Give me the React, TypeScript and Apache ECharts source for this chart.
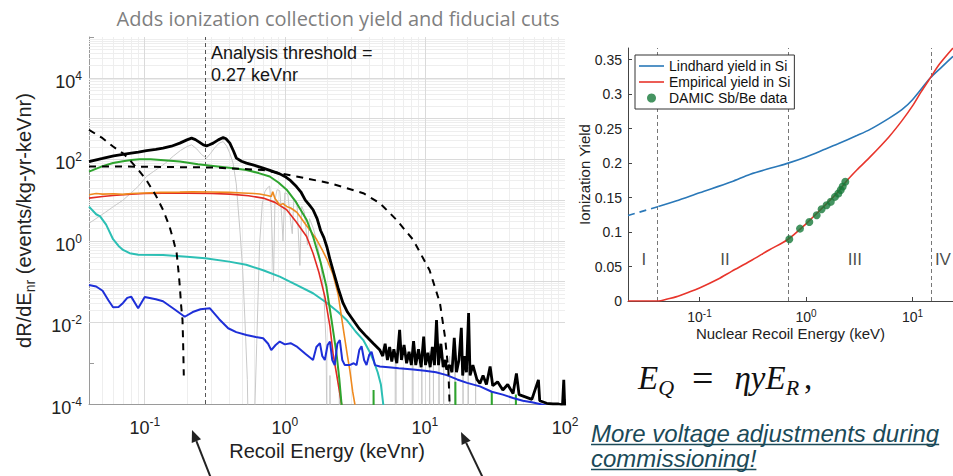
import React, { useEffect, useRef } from "react";
import * as echarts from "echarts";

const W = 953;
const H = 476;
const SANS = '"Liberation Sans", Arial, sans-serif';
const SERIF = '"Liberation Serif", "Times New Roman", serif';

// ---------------- Left panel: dR/dE spectra (E in keVnr, rate in events/kg-yr-keVnr)
const totalRate: [number, number][] = [
  [0.04, 88], [0.05, 105], [0.06, 122], [0.07, 132], [0.08, 142], [0.09, 150], [0.103, 164], [0.12, 175],
  [0.135, 188], [0.155, 210], [0.178, 250], [0.2, 300], [0.216, 331], [0.23, 305], [0.245, 265], [0.262, 225],
  [0.276, 214], [0.29, 228], [0.308, 250], [0.335, 300], [0.363, 343], [0.38, 320], [0.405, 250], [0.43, 160],
  [0.451, 107], [0.49, 90], [0.532, 81], [0.6, 72], [0.7, 61], [0.8, 52], [0.92, 44], [1.0, 38], [1.1, 30],
  [1.21, 21.5], [1.3, 16], [1.4, 10], [1.5, 7.5], [1.59, 5.8], [1.7, 3.5], [1.8, 1.8], [1.9, 1.2], [2.0, 0.7],
  [2.1, 0.35], [2.21, 0.19], [2.4, 0.07], [2.6, 0.03], [2.8, 0.018], [3.07, 0.0115], [3.4, 0.007], [3.83, 0.0045],
  [4.3, 0.003], [4.77, 0.0021], [5.0, 0.0015], [5.2, 0.003], [5.4, 0.0012], [5.6, 0.0025], [5.8, 0.0011],
  [6.0, 0.0022], [6.3, 0.001], [6.6, 0.0066], [6.8, 0.0012], [7.1, 0.0028], [7.4, 0.001], [7.7, 0.0019],
  [8.0, 0.0009], [8.3, 0.0035], [8.6, 0.0009], [9.0, 0.0022], [9.4, 0.0008], [9.8, 0.0045], [10.1, 0.0009],
  [10.5, 0.0018], [10.9, 0.0008], [11.3, 0.0025], [11.7, 0.0009], [12.1, 0.0115], [12.5, 0.0009], [13.0, 0.003],
  [13.5, 0.0008], [14.0, 0.0012], [14.3, 0.0007], [15.0, 0.0009], [15.6, 0.0006], [16.2, 0.0042], [16.8, 0.0006],
  [17.5, 0.0012], [18.2, 0.0074], [18.6, 0.0005], [19.3, 0.0015], [19.8, 0.0006], [20.5, 0.017], [21, 0.0005],
  [22, 0.0009], [23.5, 0.0004], [24.7, 0.00032], [26, 0.0005], [27.5, 0.0003], [29.2, 0.00083], [30.5, 0.00028],
  [33, 0.00035], [36, 0.00022], [39, 0.0003], [42.6, 0.00018], [45, 0.00056], [47, 0.00017], [52, 0.00015],
  [58, 0.00013], [64.6, 0.00039], [66, 0.00012], [74, 0.000104], [82, 0.0001], [90, 0.0001], [96, 0.000095],
  [98, 0.00039], [99.5, 0.00009],
];

const grayRate: [number, number][] = [
  [0.04, 2.7], [0.05, 4.5], [0.06, 7], [0.07, 10], [0.08, 15], [0.09, 22], [0.103, 38], [0.12, 55], [0.14, 80],
  [0.16, 120], [0.18, 165], [0.2, 205], [0.216, 227], [0.235, 180], [0.255, 130], [0.276, 107], [0.295, 140],
  [0.315, 190], [0.34, 250], [0.363, 273], [0.385, 210], [0.405, 140], [0.427, 81], [0.45, 25], [0.465, 6],
  [0.477, 2], [0.5, 0.2], [0.52, 0.01], [0.54, 0.0004], [0.55, 0.00001], [0.6, 0.00001], [0.63, 0.003],
  [0.66, 0.8], [0.69, 8], [0.72, 16], [0.75, 20], [0.78, 22], [0.8, 6], [0.83, 0.1], [0.85, 10], [0.88, 18],
  [0.92, 17], [0.95, 4], [0.97, 1], [1.0, 15], [1.05, 14], [1.1, 3], [1.13, 1.5], [1.16, 11], [1.22, 9],
  [1.28, 0.25], [1.32, 7], [1.38, 5], [1.45, 0.8], [1.5, 3.5], [1.6, 2], [1.7, 0.9], [1.8, 0.3], [1.9, 0.05],
  [1.97, 0.003], [2.0, 0.00001],
];
const graySpikeE = [2.1, 2.45, 6.2, 7.0, 8.2, 9.5, 10.8, 11.5, 12.6, 13.6, 15, 16.4, 18.7, 20.4, 23];
const graySpikeV = [5e-4, 3e-4, 1.2e-3, 8e-4, 1.5e-3, 1e-3, 2e-3, 1.3e-3, 2.5e-3, 1e-3, 1.5e-3, 2e-3, 1.2e-3, 8e-4, 4e-4];

const greenRate: [number, number][] = [
  [0.04, 50], [0.05, 68], [0.0594, 81], [0.07, 90], [0.08, 96], [0.092, 101], [0.11, 100], [0.13, 96],
  [0.178, 88], [0.24, 76], [0.308, 69], [0.4, 62], [0.532, 55], [0.65, 46], [0.78, 38], [0.9, 27], [1.03, 18],
  [1.2, 9], [1.43, 3.3], [1.6, 1.2], [1.8, 0.3], [1.98, 0.076], [2.15, 0.012], [2.34, 0.0017], [2.45, 0.0004],
  [2.54, 0.0001], [2.6, 0.00003],
];
const greenSpikeE = [4.3, 16.5, 30, 44.6];
const greenSpikeV = [2.2e-4, 3.5e-4, 2e-4, 1.7e-4];

const redRate: [number, number][] = [
  [0.04, 11.2], [0.05, 12.3], [0.0594, 13], [0.08, 14], [0.1, 14.5], [0.135, 14.8], [0.2, 14.8], [0.3, 14.5],
  [0.405, 14], [0.55, 12.8], [0.7, 11.2], [0.85, 8.8], [1.03, 5.8], [1.2, 3], [1.43, 1.28], [1.59, 0.5],
  [1.75, 0.17], [1.93, 0.043], [2.1, 0.008], [2.21, 0.0017], [2.35, 0.0005], [2.54, 0.0001], [2.6, 0.00003],
];

const orangeRate: [number, number][] = [
  [0.04, 13.5], [0.045, 14.5], [0.05, 14], [0.06, 14.3], [0.07, 13.8], [0.08, 14.5], [0.1, 15], [0.13, 15.5],
  [0.178, 15.7], [0.22, 16], [0.3, 15.8], [0.4, 15.5], [0.5, 15], [0.6, 14.5], [0.66, 14.1], [0.75, 13],
  [0.8, 12.2], [0.82, 16], [0.85, 11], [0.92, 7.6], [0.97, 8.2], [1.03, 7], [1.1, 6.4], [1.15, 5.8], [1.22, 5],
  [1.28, 4], [1.4, 2.6], [1.51, 1.86], [1.68, 1.1], [1.85, 0.6], [2.0, 0.35], [2.21, 0.15], [2.4, 0.05],
  [2.6, 0.0079], [2.8, 0.0015], [2.91, 0.00068], [3.05, 0.0002], [3.16, 0.0001], [3.2, 0.00004],
];

const cyanRate: [number, number][] = [
  [0.04, 6.9], [0.045, 4.5], [0.048, 4], [0.053, 2.5], [0.0594, 1.1], [0.065, 0.75], [0.07, 0.6], [0.078, 0.5],
  [0.09, 0.46], [0.135, 0.45], [0.2, 0.41], [0.27, 0.376], [0.4, 0.31], [0.53, 0.26], [0.7, 0.19], [0.92, 0.133],
  [1.2, 0.085], [1.59, 0.052], [2.0, 0.03], [2.4, 0.018], [2.76, 0.0115], [3.2, 0.006], [3.63, 0.0037],
  [4.0, 0.002], [4.28, 0.0012], [4.6, 0.0006], [4.85, 0.0003], [5.04, 0.0001], [5.1, 0.00005],
];

const blueRate: [number, number][] = [
  [0.04, 0.083], [0.045, 0.076], [0.05, 0.06], [0.055, 0.035], [0.0594, 0.0236], [0.065, 0.024], [0.07, 0.03],
  [0.075, 0.04], [0.08, 0.043], [0.0897, 0.0223], [0.1, 0.042], [0.12, 0.037], [0.135, 0.033], [0.16, 0.022],
  [0.193, 0.0138], [0.22, 0.018], [0.25, 0.021], [0.292, 0.0222], [0.34, 0.012], [0.394, 0.0072], [0.45, 0.0058],
  [0.532, 0.0049], [0.62, 0.0044], [0.7, 0.0041], [0.76, 0.003], [0.8, 0.0021], [0.86, 0.0028], [0.92, 0.0034],
  [1.0, 0.0029], [1.1, 0.0031], [1.21, 0.0026], [1.4, 0.0017], [1.59, 0.0012], [1.68, 0.0025], [1.78, 0.0031],
  [1.85, 0.0015], [1.93, 0.0012], [2.02, 0.0028], [2.1, 0.0034], [2.18, 0.0012], [2.27, 0.0009], [2.37, 0.003],
  [2.47, 0.0037], [2.57, 0.0012], [2.68, 0.0009], [2.9, 0.0009], [3.1, 0.001], [3.25, 0.0009], [3.4, 0.0021],
  [3.53, 0.0026], [3.68, 0.0012], [3.83, 0.0009], [4.0, 0.0016], [4.16, 0.0019], [4.4, 0.0009], [4.77, 0.00083],
  [5.5, 0.0008], [6.5, 0.00075], [8.25, 0.0007], [10, 0.00065], [12, 0.0006], [14.3, 0.00051], [17, 0.0004],
  [20, 0.00033], [24.7, 0.00027], [30, 0.0002], [36, 0.00017], [42.6, 0.00014], [50, 0.00012], [58, 0.00011],
  [66, 0.0001], [75, 0.00009],
];

const dashSteep: [number, number][] = [
  [0.04, 530], [0.05, 330], [0.0594, 206], [0.07, 140], [0.078, 97], [0.09, 55], [0.1028, 31], [0.12, 13],
  [0.135, 5.8], [0.15, 2.3], [0.16, 1.06], [0.169, 0.5], [0.175, 0.15], [0.178, 0.076], [0.182, 0.025],
  [0.186, 0.0115], [0.188, 0.003], [0.19, 0.0005],
];
const dashBroad: [number, number][] = [
  [0.04, 67], [0.1, 66], [0.3, 63], [0.7, 55], [1.21, 38], [2.1, 26], [3.63, 14.8], [4.77, 8.4], [6.26, 3.3],
  [8.25, 1.06], [10.8, 0.19], [12.8, 0.03], [13.9, 0.0045], [14.7, 0.00068], [15, 0.0001], [15.1, 0.00003],
];
const thresholdE = 0.27;

// ---------------- Right panel: ionization yield vs nuclear recoil energy (keV)
const lindhardLow: [number, number][] = [[0.0213, 0.124], [0.041, 0.137]];
const lindhard: [number, number][] = [
  [0.041, 0.137], [0.06, 0.145], [0.1, 0.157], [0.2, 0.173], [0.3, 0.184], [0.5, 0.194], [0.68, 0.2],
  [1.0, 0.209], [1.5, 0.22], [2, 0.228], [3, 0.24], [4, 0.249], [6, 0.265], [8, 0.278], [10, 0.292],
  [14.6, 0.323], [19, 0.34], [24, 0.355],
];
const empirical: [number, number][] = [
  [0.0213, 0], [0.041, 0], [0.05, 0.003], [0.06, 0.006], [0.08, 0.013], [0.1, 0.019], [0.15, 0.032],
  [0.2, 0.043], [0.3, 0.058], [0.45, 0.074], [0.68, 0.0896], [1.0, 0.112], [1.4, 0.134], [2.0, 0.158],
  [2.34, 0.172], [3, 0.19], [4, 0.209], [6, 0.238], [8, 0.262], [10, 0.283], [12, 0.303], [14.6, 0.323],
  [18, 0.344], [24, 0.367],
];
const damicE = [0.697, 0.878, 1.074, 1.26, 1.4, 1.56, 1.71, 1.87, 2.01, 2.12, 2.21, 2.34];
const damicY = [0.0896, 0.105, 0.1147, 0.1244, 0.133, 0.139, 0.144, 0.151, 0.156, 0.161, 0.166, 0.173];
const regionBounds = [0.041, 0.68, 15];
const regionNames = ["I", "II", "III", "IV"];
const regionLabelE = [0.03, 0.173, 2.88, 19.3];
const regionLabelY = 0.06;

// ---------------- colours
const C_BLACK = "#000000";
const C_GRAY = "#c9c9c9";
const C_GREEN = "#2ea42e";
const C_RED = "#e22b24";
const C_ORANGE = "#ef8a1f";
const C_CYAN = "#2cbfb4";
const C_BLUE = "#1e2fd8";
const Y_BLUE = "#2a78b8";
const Y_RED = "#e8352c";
const Y_GREEN = "#16793a";

const powLabel = (onlyEven: boolean) => (v: number) => {
  const l = Math.log10(v);
  const p = Math.round(l);
  if (Math.abs(l - p) > 1e-6) return "";
  if (onlyEven && p % 2 !== 0) return "";
  return `{b|10}{s|${p}}`;
};

const richBig = {
  b: { fontSize: 18, lineHeight: 24, fontFamily: SANS, color: "#222" },
  s: { fontSize: 12, lineHeight: 13, verticalAlign: "top", fontFamily: SANS, color: "#222" },
};
const richSmall = {
  b: { fontSize: 14, lineHeight: 18, fontFamily: SANS, color: "#222" },
  s: { fontSize: 10, lineHeight: 10, verticalAlign: "top", fontFamily: SANS, color: "#222" },
};

function measure(text: string, font: string) {
  const ctx = document.createElement("canvas").getContext("2d");
  if (!ctx) return text.length * 11;
  ctx.font = font;
  return ctx.measureText(text).width;
}

function buildOption() {
  const majorX = [0.1, 1, 10];
  const majorY = [1e-3, 1e-2, 1e-1, 1, 10, 100, 1e3, 1e4];
  const minorX: number[] = [];
  for (let k = -2; k <= 1; k++) for (let m = 2; m <= 9; m++) {
    const v = m * Math.pow(10, k);
    if (v > 0.04 && v < 100) minorX.push(v);
  }
  const minorY: number[] = [];
  for (let k = -4; k <= 4; k++) for (let m = 2; m <= 9; m++) minorY.push(m * Math.pow(10, k));
  const gridLineData = [
    ...minorX.map((v) => ({ xAxis: v, lineStyle: { color: "#eeeeee", width: 1, type: "solid" } })),
    ...minorY.map((v) => ({ yAxis: v, lineStyle: { color: "#eeeeee", width: 1, type: "solid" } })),
    ...majorX.map((v) => ({ xAxis: v, lineStyle: { color: "#dadada", width: 1, type: "solid" } })),
    ...majorY.map((v) => ({ yAxis: v, lineStyle: { color: "#dadada", width: 1, type: "solid" } })),
  ];

  const lineL = (name: string, data: any[], color: string, width: number, z = 3, type: any = "solid") => ({
    type: "line",
    name,
    xAxisIndex: 0,
    yAxisIndex: 0,
    data,
    symbol: "none",
    showSymbol: false,
    clip: true,
    silent: true,
    z,
    lineStyle: { color, width, type },
  });

  const spikes = (prefix: string, es: number[], vs: number[], color: string, width: number, z: number) =>
    es.map((e, i) => lineL(`${prefix}${i}`, [[e, 1e-5], [e, vs[i]], [e * 1.004, 1e-5]], color, width, z));

  const linkFont = 'italic 24px "Liberation Sans"';
  const link1 = "More voltage adjustments during";
  const link2 = "commissioning!";
  const w1 = measure(link1, linkFont);
  const w2 = measure(link2, linkFont);
  const LINK = "#1b4a58";

  const arrow = (tail: [number, number], tip: [number, number]) => {
    const dx = tip[0] - tail[0];
    const dy = tip[1] - tail[1];
    const len = Math.hypot(dx, dy);
    const ux = dx / len;
    const uy = dy / len;
    const hl = 12;
    const hw = 5;
    const bx = tip[0] - ux * hl;
    const by = tip[1] - uy * hl;
    return [
      { type: "line", z: 10, shape: { x1: tail[0], y1: tail[1], x2: bx, y2: by }, style: { stroke: "#222", lineWidth: 2 } },
      {
        type: "polygon",
        z: 10,
        shape: { points: [tip, [bx - uy * hw, by + ux * hw], [bx + uy * hw, by - ux * hw]] },
        style: { fill: "#222" },
      },
    ];
  };

  const lineIcon = "path://M0,0L25,0L25,1.6L0,1.6Z";
  const eqMain = { fontSize: 33, lineHeight: 40, fontStyle: "italic", fontFamily: SERIF, fill: "#111", color: "#111" };

  return {
    animation: false,
    backgroundColor: "#ffffff",
    textStyle: { fontFamily: SANS },
    grid: [
      { left: 89, top: 37, width: 476, height: 367, containLabel: false, outerBoundsMode: "none" },
      { left: 628, top: 48, width: 325, height: 253, containLabel: false, outerBoundsMode: "none" },
    ],
    xAxis: [
      {
        type: "log",
        gridIndex: 0,
        logBase: 10,
        min: 0.04,
        max: 100,
        axisLine: { show: true, onZero: false, lineStyle: { color: "#9a9a9a", width: 1 } },
        axisTick: { show: true, inside: true, length: 5, lineStyle: { color: "#9a9a9a" } },
        axisLabel: { formatter: powLabel(false), margin: 12, rich: richBig, color: "#222" },
        splitLine: { show: false },
        name: "Recoil Energy (keVnr)",
        nameLocation: "middle",
        nameGap: 37,
        nameMoveOverlap: false,
        nameTextStyle: { fontSize: 20, fontFamily: SANS, color: "#222" },
      },
      {
        type: "log",
        gridIndex: 1,
        logBase: 10,
        min: 0.0213,
        max: 24,
        axisLine: { show: true, onZero: false, lineStyle: { color: "#444", width: 1 } },
        axisTick: { show: true, inside: true, length: 4, lineStyle: { color: "#444" } },
        axisLabel: { formatter: powLabel(false), margin: 7, rich: richSmall, color: "#222" },
        splitLine: { show: false },
        name: "Nuclear Recoil Energy (keV)",
        nameLocation: "middle",
        nameGap: 25,
        nameMoveOverlap: false,
        nameTextStyle: { fontSize: 15, fontFamily: SANS, color: "#222" },
      },
    ],
    yAxis: [
      {
        type: "log",
        gridIndex: 0,
        logBase: 10,
        min: 1e-4,
        max: 1e5,
        axisLine: { show: true, onZero: false, lineStyle: { color: "#9a9a9a", width: 1 } },
        axisTick: { show: true, inside: true, length: 5, lineStyle: { color: "#9a9a9a" } },
        axisLabel: { formatter: powLabel(true), margin: 7, padding: [8, 0, 0, 0], rich: richBig, color: "#222" },
        splitLine: { show: false },
        name: "{a|dR/dE}{s|nr}{a| (events/kg-yr-keVnr)}",
        nameLocation: "middle",
        nameRotate: 90,
        nameGap: 52,
        nameMoveOverlap: false,
        nameTextStyle: {
          rich: {
            a: { fontSize: 20, lineHeight: 26, fontFamily: SANS, color: "#222" },
            s: { fontSize: 14, lineHeight: 14, verticalAlign: "bottom", fontFamily: SANS, color: "#222" },
          },
        },
      },
      {
        type: "value",
        gridIndex: 1,
        min: 0,
        max: 0.367,
        interval: 0.05,
        axisLine: { show: true, onZero: false, lineStyle: { color: "#444", width: 1 } },
        axisTick: { show: true, inside: true, length: 4, lineStyle: { color: "#444" } },
        axisLabel: { showMaxLabel: false, margin: 6, fontSize: 14, fontFamily: SANS, color: "#222" },
        splitLine: { show: false },
        name: "Ionization Yield",
        nameLocation: "middle",
        nameRotate: 90,
        nameGap: 36,
        nameMoveOverlap: false,
        nameTextStyle: { fontSize: 15, fontFamily: SANS, color: "#222" },
      },
    ],
    legend: {
      show: true,
      left: 635,
      top: 55,
      orient: "vertical",
      itemWidth: 25,
      itemHeight: 9,
      itemGap: 2,
      padding: [4, 4, 4, 4],
      borderColor: "#333",
      borderWidth: 1,
      backgroundColor: "#ffffff",
      textStyle: { fontSize: 14, fontFamily: SANS, color: "#111" },
      data: [
        { name: "Lindhard yield in Si", icon: lineIcon },
        { name: "Empirical yield in Si", icon: lineIcon },
        { name: "DAMIC Sb/Be data", icon: "circle" },
      ],
    },
    series: [
      {
        ...lineL("gridlines", [[0.04, 1e-4]], "#fff", 0, 1),
        markLine: { z: 1, silent: true, symbol: ["none", "none"], label: { show: false }, animation: false, data: gridLineData },
      },
      {
        ...lineL("threshold", [[0.04, 1e-4]], "#fff", 0, 2),
        markLine: {
          z: 2,
          silent: true,
          symbol: ["none", "none"],
          label: { show: false },
          animation: false,
          data: [{ xAxis: thresholdE, lineStyle: { color: "#555", width: 1, type: [4, 3] } }],
        },
      },
      lineL("gray", grayRate, C_GRAY, 1, 3),
      ...spikes("grayspike", graySpikeE, graySpikeV, C_GRAY, 1, 3),
      lineL("cyan", cyanRate, C_CYAN, 2, 4),
      lineL("red", redRate, C_RED, 1.6, 4),
      lineL("orange", orangeRate, C_ORANGE, 1.6, 4),
      lineL("green", greenRate, C_GREEN, 2, 5),
      ...spikes("greenspike", greenSpikeE, greenSpikeV, C_GREEN, 2, 5),
      lineL("blue", blueRate, C_BLUE, 2, 5),
      lineL("total", totalRate, C_BLACK, 2.8, 6),
      lineL("dashSteep", dashSteep, C_BLACK, 2, 7, [7, 6]),
      lineL("dashBroad", dashBroad, C_BLACK, 2, 7, [7, 6]),

      // right panel
      {
        type: "line",
        name: "regions",
        xAxisIndex: 1,
        yAxisIndex: 1,
        data: [[0.0213, 0]],
        symbol: "none",
        silent: true,
        z: 1,
        lineStyle: { width: 0 },
        markLine: {
          z: 1,
          silent: true,
          symbol: ["none", "none"],
          label: { show: false },
          animation: false,
          data: regionBounds.map((v) => ({ xAxis: v, lineStyle: { color: "#777", width: 1, type: [4, 3] } })),
        },
      },
      {
        type: "line",
        name: "Lindhard low",
        xAxisIndex: 1,
        yAxisIndex: 1,
        data: lindhardLow,
        symbol: "none",
        silent: true,
        z: 3,
        lineStyle: { color: Y_BLUE, width: 1.6, type: [7, 5] },
      },
      {
        type: "line",
        name: "Lindhard yield in Si",
        xAxisIndex: 1,
        yAxisIndex: 1,
        data: lindhard,
        symbol: "none",
        smooth: 0.3,
        silent: true,
        z: 3,
        color: Y_BLUE,
        itemStyle: { color: Y_BLUE },
        lineStyle: { color: Y_BLUE, width: 1.6 },
      },
      {
        type: "line",
        name: "Empirical yield in Si",
        xAxisIndex: 1,
        yAxisIndex: 1,
        data: empirical,
        symbol: "none",
        smooth: 0.3,
        silent: true,
        z: 3,
        color: Y_RED,
        itemStyle: { color: Y_RED },
        lineStyle: { color: Y_RED, width: 1.6 },
      },
      {
        type: "scatter",
        name: "DAMIC Sb/Be data",
        xAxisIndex: 1,
        yAxisIndex: 1,
        data: damicE.map((e, i) => [e, damicY[i]]),
        symbol: "circle",
        symbolSize: 8,
        silent: true,
        z: 4,
        color: Y_GREEN,
        itemStyle: { color: Y_GREEN },
      },
      {
        type: "scatter",
        name: "region labels",
        xAxisIndex: 1,
        yAxisIndex: 1,
        data: regionNames.map((n, i) => ({ name: n, value: [regionLabelE[i], regionLabelY] })),
        symbolSize: 1,
        itemStyle: { color: "rgba(0,0,0,0)" },
        silent: true,
        z: 4,
        label: {
          show: true,
          position: "inside",
          formatter: "{b}",
          fontSize: 17,
          fontFamily: SANS,
          color: "#1a1a1a",
        },
      },
    ],
    graphic: [
      {
        type: "text",
        x: 338,
        y: 18,
        z: 10,
        silent: true,
        style: {
          text: "Adds ionization collection yield and fiducial cuts",
          fontSize: 20,
          fontFamily: '"Open Sans", sans-serif',
          fill: "#7f7f7f",
          textAlign: "center",
          textVerticalAlign: "middle",
          align: "center",
          verticalAlign: "middle",
        },
      },
      {
        type: "text",
        x: 211,
        y: 42,
        z: 10,
        silent: true,
        style: {
          text: "Analysis threshold =\n0.27 keVnr",
          fontSize: 18,
          lineHeight: 22,
          fontFamily: SANS,
          fill: "#151515",
          textAlign: "left",
          textVerticalAlign: "top",
          align: "left",
          verticalAlign: "top",
        },
      },
      {
        type: "text",
        x: 638,
        y: 378,
        z: 10,
        silent: true,
        style: {
          text: "{i|E}{sub|Q}{eq|=}{i|ηyE}{sub|R}{r|,}",
          textAlign: "left",
          textVerticalAlign: "middle",
          align: "left",
          verticalAlign: "middle",
          rich: {
            i: eqMain,
            eq: { fontSize: 38, lineHeight: 40, fontFamily: SERIF, fill: "#111", color: "#111", padding: [0, 21, 0, 16] },
            r: { fontSize: 33, lineHeight: 40, fontFamily: SERIF, fill: "#111", color: "#111", padding: [0, 0, 0, 3] },
            sub: {
              fontSize: 22,
              lineHeight: 22,
              verticalAlign: "bottom",
              fontStyle: "italic",
              fontFamily: SERIF,
              fill: "#111",
              color: "#111",
              padding: [0, 2, 0, 0],
            },
          },
        },
      },
      {
        type: "text",
        x: 591,
        y: 433,
        z: 10,
        silent: true,
        style: {
          text: link1,
          font: linkFont,
          fill: LINK,
          textAlign: "left",
          textVerticalAlign: "middle",
          align: "left",
          verticalAlign: "middle",
        },
      },
      {
        type: "text",
        x: 591,
        y: 458,
        z: 10,
        silent: true,
        style: {
          text: link2,
          font: linkFont,
          fill: LINK,
          textAlign: "left",
          textVerticalAlign: "middle",
          align: "left",
          verticalAlign: "middle",
        },
      },
      { type: "line", z: 10, silent: true, shape: { x1: 591, y1: 444.5, x2: 591 + w1, y2: 444.5 }, style: { stroke: LINK, lineWidth: 1.5 } },
      { type: "line", z: 10, silent: true, shape: { x1: 591, y1: 469.5, x2: 591 + w2, y2: 469.5 }, style: { stroke: LINK, lineWidth: 1.5 } },
      ...arrow([210.5, 477], [192, 430]),
      ...arrow([482.5, 477], [461, 432]),
    ],
  };
}

export default function App() {
  const ref = useRef<HTMLDivElement>(null);
  useEffect(() => {
    if (!ref.current) return;
    const chart = echarts.init(ref.current, null, { renderer: "svg", width: W, height: H });
    chart.setOption(buildOption() as any);
    return () => chart.dispose();
  }, []);
  return (
    <div
      ref={ref}
      style={{ position: "fixed", left: 0, top: 0, width: W, height: H, background: "#ffffff", overflow: "hidden" }}
    />
  );
}
